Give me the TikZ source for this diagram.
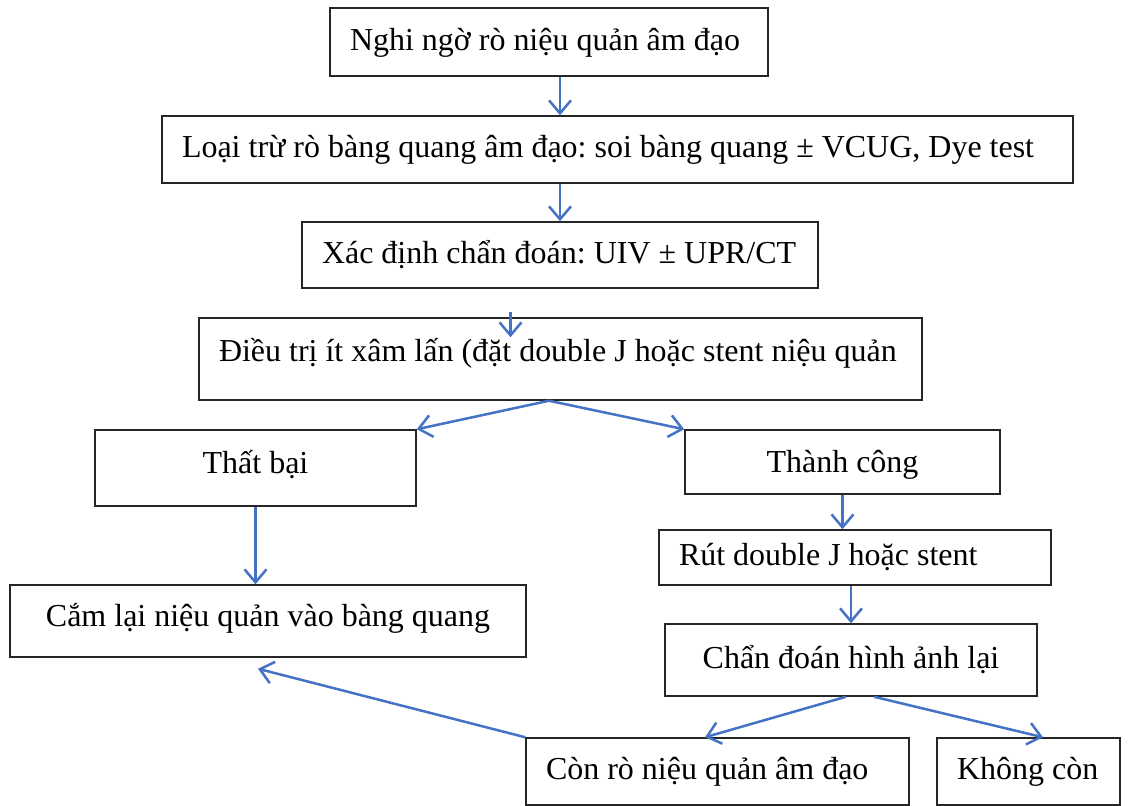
\documentclass[tikz,border=0pt]{standalone}
\usepackage{fontspec}
\setmainfont{Liberation Serif}
\usetikzlibrary{arrows.meta}
\definecolor{arrowblue}{RGB}{68,114,196}
\frenchspacing

\begin{document}
\begin{tikzpicture}[node distance={2cm}, >={Straight Barb[length=0.26cm,width=0.44cm]},
        box/.style = {draw=black!85, line width=0.03cm, rectangle, inner ysep=0.05cm, text height=0.62cm, text depth=0.3cm, font=\fontsize{18.2}{22}\selectfont},
        lbox/.style = {box, inner xsep=0.4cm, execute at begin node={\hbox to #1\bgroup}, execute at end node={\hss\egroup}},
        cbox/.style = {box, minimum width=#1, align=center},
        link/.style = {->, line width=0.05cm, draw=arrowblue}]
    \useasboundingbox (0,0) rectangle (22.96,-16.10);
        \node[lbox=7.96cm, minimum height=1.36cm] (1) at (10.98,-0.84) {Nghi ngờ rò niệu quản âm đạo};
        \node[lbox=17.42cm, minimum height=1.34cm] (2) [below of=1, xshift=1.37cm, yshift=-0.15cm] {Loại trừ rò bàng quang âm đạo: soi bàng quang ± VCUG, Dye test};
        \node[lbox=9.52cm, minimum height=1.32cm] (3) [below of=2, xshift=-1.15cm, yshift=-0.11cm] {Xác định chẩn đoán: UIV ± UPR/CT};
        \node[lbox=13.66cm, minimum height=1.64cm, text depth=0.52cm] (4) [below of=3, xshift=0.01cm, yshift=-0.08cm] {Điều trị ít xâm lấn (đặt double J hoặc stent niệu quản};
        \node[cbox=6.42cm, minimum height=1.52cm, text depth=0.42cm] (5) [below of=4, xshift=-6.10cm, yshift=-0.18cm] {Thất bại};
        \node[cbox=6.30cm, minimum height=1.28cm, text depth=0.22cm] (6) [right of=5, xshift=9.74cm, yshift=0.12cm] {Thành công};
        \node[lbox=7.04cm, minimum height=1.10cm] (7) [below of=6, xshift=0.25cm, yshift=0.09cm] {Rút double J hoặc stent};
        \node[cbox=10.32cm, minimum height=1.44cm, text depth=0.42cm] (8) [below of=5, xshift=0.25cm, yshift=-1.06cm] {Cắm lại niệu quản vào bàng quang};
        \node[cbox=7.44cm, minimum height=1.44cm] (9) [below of=7, xshift=-0.08cm, yshift=-0.05cm] {Chẩn đoán hình ảnh lại};
        \node[lbox=6.86cm, minimum height=1.34cm] (10) [below of=9, xshift=-2.67cm, yshift=-0.23cm] {Còn rò niệu quản âm đạo};
        \node[lbox=2.86cm, minimum height=1.34cm] (11) [right of=10, xshift=4.22cm] {Không còn};
        \draw[link] (1.south -| 3.north) -- (2.north -| 3.north);
        \draw[link] (2.south -| 3.north) -- (3.north);
        \draw[link] ([shift={(-1.0,0.1)}]4.north) -- ([shift={(-1.0,-0.4)}]4.north);
        \draw[link] ([xshift=-0.23cm]4.south) -- (5.north east);
        \draw[link] ([xshift=-0.23cm]4.south) -- (6.north west);
        \draw[link] (5.south) -- (5.south |- 8.north);
        \draw[link] (6.south) -- (6.south |- 7.north);
        \draw[link] (7.south -| 9.north) -- (9.north);
        \draw[link] ([xshift=-0.1cm]9.south) -- ([xshift=-0.25cm]10.north);
        \draw[link] ([xshift=0.46cm]9.south) -- ([xshift=0.29cm]11.north);
        \draw[link] (10.north west) -- ([shift={(-0.2,-0.22)}]8.south);
    \end{tikzpicture}
\end{document}
